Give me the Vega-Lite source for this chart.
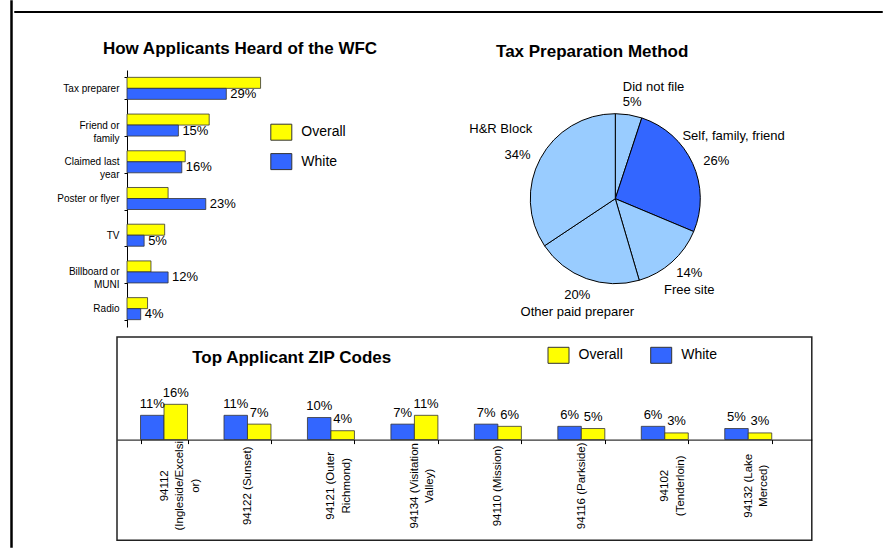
{
  "$schema": "https://vega.github.io/schema/vega-lite/v6.json",
  "padding": {"left": 10, "top": 0, "right": 0, "bottom": 0},
  "background": "white",
  "spacing": 0,
  "resolve": {"scale": {"color": "independent", "x": "independent", "y": "independent"}, "legend": {"color": "independent"}},
  "config": {
    "font": "Liberation Sans",
    "view": {"stroke": null},
    "axis": {"labelColor": "#000", "domainColor": "#000", "tickColor": "#000", "grid": false},
    "legend": {"labelColor": "#000", "padding": 0},
    "title": {"fontSize": 17, "fontWeight": "bold", "color": "#000"}
  },
  "hconcat": [
    {
      "width": 1, "height": 546,
      "view": {"stroke": "#000", "strokeWidth": 1.5},
      "data": {"values": []},
      "mark": "point"
    },
    {
      "spacing": 0,
      "resolve": {"scale": {"color": "independent", "x": "independent", "y": "independent"}, "legend": {"color": "independent"}},
      "vconcat": [
        {"width": 1, "height": 9, "data": {"values": []}, "mark": "point"},
        {"width": 868, "height": 1, "view": {"stroke": "#000", "strokeWidth": 1}, "data": {"values": []}, "mark": "point"},
        {"width": 1, "height": 25.4, "data": {"values": []}, "mark": "point"},
        {
          "spacing": 0,
          "resolve": {"scale": {"color": "independent"}, "legend": {"color": "independent"}},
          "hconcat": [
            {"width": 41.8, "height": 1, "data": {"values": []}, "mark": "point"},
            {
              "spacing": 90.3,
              "resolve": {"scale": {"color": "independent", "theta": "independent"}, "legend": {"color": "independent"}},
              "hconcat": [
                {
                  "width": 137, "height": 257,
                  "title": {"text": "How Applicants Heard of the WFC", "anchor": "middle", "frame": "group", "dx": 44.5, "offset": -5.5, "baseline": "alphabetic"},
                  "data": {"values": [
                    {"source": "Tax preparer", "group": "Overall", "pct": 0.39},
                    {"source": "Tax preparer", "group": "White", "pct": 0.29},
                    {"source": "Friend or|family", "group": "Overall", "pct": 0.24},
                    {"source": "Friend or|family", "group": "White", "pct": 0.15},
                    {"source": "Claimed last|year", "group": "Overall", "pct": 0.17},
                    {"source": "Claimed last|year", "group": "White", "pct": 0.16},
                    {"source": "Poster or flyer", "group": "Overall", "pct": 0.12},
                    {"source": "Poster or flyer", "group": "White", "pct": 0.23},
                    {"source": "TV", "group": "Overall", "pct": 0.11},
                    {"source": "TV", "group": "White", "pct": 0.05},
                    {"source": "Billboard or|MUNI", "group": "Overall", "pct": 0.07},
                    {"source": "Billboard or|MUNI", "group": "White", "pct": 0.12},
                    {"source": "Radio", "group": "Overall", "pct": 0.06},
                    {"source": "Radio", "group": "White", "pct": 0.04}
                  ]},
                  "encoding": {
                    "y": {
                      "field": "source", "type": "nominal",
                      "sort": ["Tax preparer", "Friend or|family", "Claimed last|year", "Poster or flyer", "TV", "Billboard or|MUNI", "Radio"],
                      "scale": {"paddingInner": 0.4, "paddingOuter": 0.2},
                      "axis": {"title": null, "labelExpr": "split(datum.label, '|')", "labelFontSize": 10, "labelAlign": "right", "labelBaseline": "middle", "labelLineHeight": 13, "labelPadding": 5, "tickSize": 3, "tickBand": "extent"}
                    },
                    "yOffset": {"field": "group", "sort": ["Overall", "White"]},
                    "x": {"field": "pct", "type": "quantitative", "scale": {"domain": [0, 0.4]}, "axis": null}
                  },
                  "layer": [
                    {
                      "mark": {"type": "bar", "stroke": "#333", "strokeWidth": 0.8},
                      "encoding": {
                        "color": {
                          "field": "group", "type": "nominal",
                          "scale": {"domain": ["Overall", "White"], "range": ["#FFFF00", "#3366FF"]},
                          "legend": {"title": null, "orient": "none", "legendX": 143.3, "legendY": 51.2, "symbolType": "M-1,-0.762H1V0.762H-1Z", "symbolSize": 441, "symbolStrokeColor": "#333", "symbolStrokeWidth": 1, "labelFontSize": 14, "labelOffset": 9, "rowPadding": 7.4}
                        }
                      }
                    },
                    {
                      "transform": [{"filter": "datum.group === 'White'"}],
                      "mark": {"type": "text", "align": "left", "baseline": "middle", "dx": 4, "fontSize": 13, "color": "#000"},
                      "encoding": {"text": {"field": "pct", "type": "quantitative", "format": ".0%"}}
                    }
                  ]
                },
                {
                  "width": 170, "height": 257.4,
                  "title": {"text": "Tax Preparation Method", "anchor": "middle", "frame": "group", "dx": -23.1, "offset": -18, "baseline": "alphabetic"},
                  "data": {"values": [
                    {"method": "Did not file", "share": 0.05},
                    {"method": "Self, family, friend", "share": 0.26},
                    {"method": "Free site", "share": 0.14},
                    {"method": "Other paid preparer", "share": 0.20},
                    {"method": "H&R Block", "share": 0.34}
                  ]},
                  "transform": [{"window": [{"op": "row_number", "as": "seq"}]}],
                  "encoding": {
                    "theta": {"field": "share", "type": "quantitative", "stack": true},
                    "order": {"field": "seq", "type": "quantitative"}
                  },
                  "layer": [
                    {
                      "mark": {"type": "arc", "stroke": "#000", "strokeWidth": 1},
                      "encoding": {"color": {"condition": {"test": "datum.method === 'Self, family, friend'", "value": "#3366FF"}, "value": "#99CCFF"}}
                    },
                    {
                      "mark": {"type": "text", "radius": 111, "align": "left", "dx": -10, "dy": -2, "fontSize": 13, "color": "#000"},
                      "encoding": {"text": {"condition": {"test": "datum.method !== 'Did not file'", "value": ""}, "field": "method"}}
                    },
                    {
                      "mark": {"type": "text", "radius": 111, "align": "left", "dx": -10, "dy": 13, "fontSize": 13, "color": "#000"},
                      "encoding": {"text": {"condition": {"test": "datum.method !== 'Did not file'", "value": ""}, "field": "share", "type": "quantitative", "format": ".0%"}}
                    },
                    {
                      "mark": {"type": "text", "radius": 130, "dy": -8.5, "fontSize": 13, "color": "#000"},
                      "encoding": {"text": {"condition": {"test": "datum.method !== 'Self, family, friend' && datum.method !== 'H&R Block'", "value": ""}, "field": "method"}}
                    },
                    {
                      "mark": {"type": "text", "radius": 111, "dy": 8.5, "fontSize": 13, "color": "#000"},
                      "encoding": {"text": {"condition": {"test": "datum.method !== 'Self, family, friend' && datum.method !== 'H&R Block'", "value": ""}, "field": "share", "type": "quantitative", "format": ".0%"}}
                    },
                    {
                      "mark": {"type": "text", "radius": 111, "dy": 8.5, "fontSize": 13, "color": "#000"},
                      "encoding": {"text": {"condition": {"test": "datum.method !== 'Free site' && datum.method !== 'Other paid preparer'", "value": ""}, "field": "method"}}
                    },
                    {
                      "mark": {"type": "text", "radius": 111, "dy": -8.5, "fontSize": 13, "color": "#000"},
                      "encoding": {"text": {"condition": {"test": "datum.method !== 'Free site' && datum.method !== 'Other paid preparer'", "value": ""}, "field": "share", "type": "quantitative", "format": ".0%"}}
                    }
                  ]
                }
              ]
            }
          ]
        },
        {"width": 1, "height": 7.5, "data": {"values": []}, "mark": "point"},
        {
          "spacing": 0,
          "resolve": {"scale": {"color": "independent"}, "legend": {"color": "independent"}},
          "hconcat": [
            {"width": 95.75, "height": 1, "data": {"values": []}, "mark": "point"},
            {
              "width": 694.8, "height": 203.3,
              "view": {"stroke": "#222", "strokeWidth": 1.5},
              "title": {"text": "Top Applicant ZIP Codes", "anchor": "start", "frame": "group", "dx": 75.2, "offset": -43, "baseline": "alphabetic"},
              "data": {"values": [
                {"zip": "94112|(Ingleside/Excelsi|or)", "group": "White", "pct": 0.11},
                {"zip": "94112|(Ingleside/Excelsi|or)", "group": "Overall", "pct": 0.16},
                {"zip": "94122 (Sunset)", "group": "White", "pct": 0.11},
                {"zip": "94122 (Sunset)", "group": "Overall", "pct": 0.07},
                {"zip": "94121 (Outer|Richmond)", "group": "White", "pct": 0.10},
                {"zip": "94121 (Outer|Richmond)", "group": "Overall", "pct": 0.04},
                {"zip": "94134 (Visitation|Valley)", "group": "White", "pct": 0.07},
                {"zip": "94134 (Visitation|Valley)", "group": "Overall", "pct": 0.11},
                {"zip": "94110 (Mission)", "group": "White", "pct": 0.07},
                {"zip": "94110 (Mission)", "group": "Overall", "pct": 0.06},
                {"zip": "94116 (Parkside)", "group": "White", "pct": 0.06},
                {"zip": "94116 (Parkside)", "group": "Overall", "pct": 0.05},
                {"zip": "94102|(Tenderloin)", "group": "White", "pct": 0.06},
                {"zip": "94102|(Tenderloin)", "group": "Overall", "pct": 0.03},
                {"zip": "94132 (Lake|Merced)", "group": "White", "pct": 0.05},
                {"zip": "94132 (Lake|Merced)", "group": "Overall", "pct": 0.03}
              ]},
              "encoding": {
                "x": {
                  "field": "zip", "type": "nominal",
                  "sort": ["94112|(Ingleside/Excelsi|or)", "94122 (Sunset)", "94121 (Outer|Richmond)", "94134 (Visitation|Valley)", "94110 (Mission)", "94116 (Parkside)", "94102|(Tenderloin)", "94132 (Lake|Merced)"],
                  "scale": {"paddingInner": 0.437, "paddingOuter": 0.381, "align": 0.37},
                  "axis": {"title": null, "orient": "bottom", "offset": -100.7, "labelAngle": -90, "labelAlign": "center", "labelBaseline": "middle", "labelExpr": "split(datum.label, '|')", "labelFontSize": 11.5, "labelLineHeight": 15.5, "labelPadding": 41.7, "tickSize": 4, "tickBand": "extent", "labelOverlap": false, "labelLimit": 0}
                },
                "xOffset": {"field": "group", "sort": ["White", "Overall"]},
                "y": {"field": "pct", "type": "quantitative", "scale": {"domain": [-0.458, 0.466], "zero": true, "nice": false}, "axis": null}
              },
              "layer": [
                {
                  "mark": {"type": "bar", "stroke": "#333", "strokeWidth": 0.8},
                  "encoding": {
                    "color": {
                      "field": "group", "type": "nominal",
                      "scale": {"domain": ["Overall", "White"], "range": ["#FFFF00", "#3366FF"]},
                      "legend": {"title": null, "orient": "none", "direction": "horizontal", "legendX": 430.5, "legendY": 6.8, "symbolType": "M-1,-0.762H1V0.762H-1Z", "symbolSize": 441, "symbolStrokeColor": "#333", "symbolStrokeWidth": 1, "labelFontSize": 14, "labelOffset": 9, "columnPadding": 24.7}
                    }
                  }
                },
                {
                  "mark": {"type": "text", "baseline": "alphabetic", "dy": -7.6, "fontSize": 13, "color": "#000"},
                  "encoding": {"text": {"field": "pct", "type": "quantitative", "format": ".0%"}}
                }
              ]
            }
          ]
        }
      ]
    }
  ]
}
